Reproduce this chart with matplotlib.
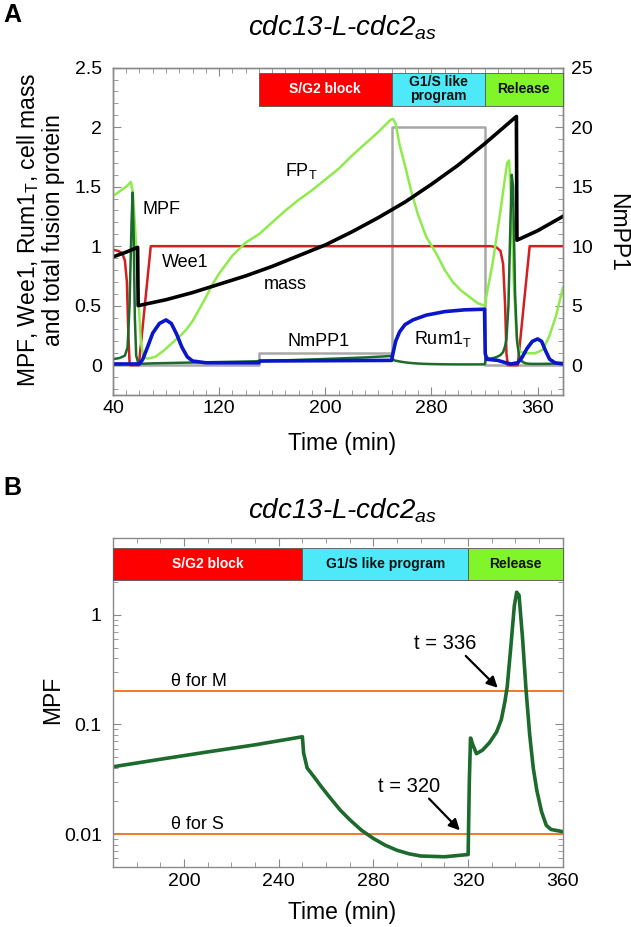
import matplotlib
matplotlib.use('Agg')
import matplotlib.pyplot as plt
import numpy as np
from matplotlib.patches import Rectangle
from matplotlib.ticker import MultipleLocator, FixedLocator, LogLocator, NullFormatter, FuncFormatter

plt.rcParams['font.family'] = ['Liberation Sans', 'DejaVu Sans']
plt.rcParams['mathtext.fontset'] = 'custom'
plt.rcParams['mathtext.rm'] = 'Liberation Sans'
plt.rcParams['mathtext.it'] = 'Liberation Sans:italic'

# ---- data ----
# phases of the experiment (start times)
phase_names_A = ['S/G2 block', 'G1/S like\nprogram', 'Release']
phase_names_B = ['S/G2 block', 'G1/S like program', 'Release']
phase_starts = [150, 250, 320]
phase_colors = ['#ff0000', '#4de9f8', '#7ff52a']
phase_text_colors = ['white', '#111111', '#111111']

# NmPP1 (right axis, panel A)
nmpp1_t = [40, 150, 250, 320, 379]
nmpp1 = [0, 1, 20, 0, 0]

# cell mass
mass_t = [40, 50, 58.6, 59.0, 80, 100, 120, 140, 160, 180, 200, 220, 240, 260,
          280, 300, 320, 344, 344.4, 360, 379]
mass = [0.91, 0.95, 0.99, 0.5, 0.55, 0.61, 0.68, 0.75, 0.83, 0.92, 1.01, 1.12,
        1.24, 1.37, 1.52, 1.68, 1.86, 2.09, 1.05, 1.13, 1.25]

# Wee1
wee1_t = [40, 44, 47, 49, 50.5, 51.5, 52.5, 53, 59.5, 68.5, 325, 329, 332, 334,
          335.5, 336.5, 337.5, 345, 354, 379]
wee1 = [0.97, 0.96, 0.94, 0.88, 0.7, 0.3, 0.02, 0.0, 0.0, 1.0, 1.0, 0.99, 0.96,
        0.85, 0.5, 0.1, 0.0, 0.0, 1.0, 1.0]

# total fusion protein FP_T
fp_t = [40, 45, 50, 53.5, 55, 57, 59, 61, 63, 66, 72, 78, 85, 92, 96, 100, 105,
        110, 115, 120, 130, 140, 150, 160, 170, 180, 190, 200, 210, 220, 230, 240,
        249, 251, 253, 256, 260, 265, 270, 276, 284, 290, 296, 302, 309, 315, 320,
        326, 332, 337, 338.5, 340, 342, 344, 346, 350, 358, 364, 369, 374, 379]
fp = [1.42, 1.46, 1.50, 1.54, 1.45, 1.1, 0.6, 0.2, 0.07, 0.055, 0.07, 0.12, 0.19,
      0.26, 0.31, 0.37, 0.47, 0.57, 0.68, 0.77, 0.92, 1.03, 1.1, 1.2, 1.3, 1.39,
      1.47, 1.56, 1.65, 1.76, 1.86, 1.96, 2.06, 2.07, 2.03, 1.85, 1.68, 1.45, 1.26,
      1.08, 0.93, 0.8, 0.7, 0.63, 0.57, 0.52, 0.5, 0.85, 1.3, 1.7, 1.72, 1.4, 0.7,
      0.25, 0.12, 0.1, 0.1, 0.13, 0.25, 0.42, 0.65]

# Rum1_T
rum_t = [40, 60, 62.5, 66, 70, 75, 80, 84, 88, 92, 96, 100, 110, 150, 150.5, 250,
         251, 253, 256, 260, 266, 276, 290, 305, 320, 320.5, 321.5, 330, 336, 340,
         345, 348, 352, 356, 360, 363, 366, 369, 373, 379]
rum = [0.01, 0.01, 0.05, 0.15, 0.27, 0.35, 0.38, 0.35, 0.26, 0.15, 0.07, 0.035,
       0.02, 0.02, 0.035, 0.04, 0.1, 0.2, 0.28, 0.34, 0.38, 0.42, 0.45, 0.465, 0.47,
       0.1, 0.05, 0.04, 0.02, 0.01, 0.02, 0.06, 0.14, 0.2, 0.22, 0.2, 0.12, 0.05,
       0.02, 0.01]

# MPF (both panels)
mpf_t = [40, 45, 49, 51, 52.5, 54, 54.8, 55.6, 56.5, 57.5, 59, 62, 70, 90, 110,
         130, 150, 170, 190, 210, 230, 250, 250.5, 252, 255, 258, 262, 266, 270,
         275, 280, 285, 290, 295, 300, 310, 320, 320.5, 321, 322, 323.5, 326, 329,
         332, 334, 335.5, 336.5, 338, 339.5, 340.5, 341.5, 343, 344.5, 346, 347.5,
         349, 351, 353, 355, 360, 370, 379]
mpf = [0.05, 0.06, 0.08, 0.15, 0.5, 1.2, 1.45, 1.1, 0.4, 0.08, 0.02, 0.012, 0.015,
       0.02, 0.024, 0.028, 0.033, 0.041, 0.048, 0.056, 0.065, 0.077, 0.055, 0.040,
       0.033, 0.027, 0.021, 0.0165, 0.0135, 0.0108, 0.0091, 0.0079, 0.0071, 0.0066,
       0.0063, 0.0062, 0.0065, 0.03, 0.075, 0.065, 0.054, 0.058, 0.068, 0.085, 0.11,
       0.16, 0.22, 0.5, 1.2, 1.6, 1.5, 0.6, 0.2, 0.08, 0.04, 0.025, 0.016, 0.012,
       0.011, 0.0105, 0.012, 0.02]

theta_M = 0.2
theta_S = 0.01

FRAME = '#8a8a8a'


def style_frame(ax):
    for s in ax.spines.values():
        s.set_color(FRAME)
        s.set_linewidth(1.0)
    ax.tick_params(which='both', direction='in', colors=FRAME, labelcolor='black',
                   labelsize=14)
    ax.tick_params(which='major', length=6)
    ax.tick_params(which='minor', length=3.5)


def phase_bar(ax, names, y0, y1, fs):
    # bar of coloured phases, clipped to the visible time range
    tr = ax.get_xaxis_transform()
    lo, hi = ax.get_xlim()
    edges = [max(s, lo) for s in phase_starts] + [hi]
    for i, name in enumerate(names):
        a, b = edges[i], edges[i + 1]
        ax.add_patch(Rectangle((a, y0), b - a, y1 - y0, transform=tr,
                               facecolor=phase_colors[i], edgecolor='#555555',
                               lw=0.6, zorder=5, clip_on=False))
        ax.text((a + b) / 2, (y0 + y1) / 2, name, transform=tr, ha='center',
                va='center', fontsize=fs, fontweight='bold',
                color=phase_text_colors[i], zorder=6, linespacing=1.0)


fig = plt.figure(figsize=(6.31, 9.27), dpi=100)

# ================= panel A =================
axA = fig.add_axes([0.179, 0.574, 0.713, 0.353])
axA2 = axA.twinx()
axA.set_zorder(axA2.get_zorder() + 1)
axA.patch.set_visible(False)

axA2.plot(nmpp1_t, nmpp1, drawstyle='steps-post', color='#a8a8a8', lw=1.8)
axA.plot(wee1_t, wee1, color='#d21f1f', lw=1.8)
axA.plot(fp_t, fp, color='#8fea4c', lw=1.8)
axA.plot(mpf_t, mpf, color='#1c6b2c', lw=1.8)
axA.plot(mass_t, mass, color='black', lw=2.6)
axA.plot(rum_t, rum, color='#0a16c8', lw=2.6)

axA.set_xlim(40, 379)
axA.set_ylim(-0.25, 2.5)
axA2.set_ylim(-2.5, 25)
axA.xaxis.set_major_locator(FixedLocator([40, 120, 200, 280, 360]))
axA.xaxis.set_minor_locator(MultipleLocator(10))
axA.yaxis.set_major_locator(FixedLocator([0, 0.5, 1, 1.5, 2, 2.5]))
axA.yaxis.set_minor_locator(MultipleLocator(0.1))
axA.yaxis.set_major_formatter(FuncFormatter(lambda v, p: '%g' % v))
axA2.yaxis.set_major_locator(FixedLocator([0, 5, 10, 15, 20, 25]))
axA2.yaxis.set_minor_locator(MultipleLocator(1))
style_frame(axA)
style_frame(axA2)
axA.tick_params(which='both', top=True, right=False)
axA.tick_params(axis='y', pad=8)
axA.tick_params(axis='x', pad=4)
axA2.tick_params(axis='y', pad=6)

phase_bar(axA, phase_names_A, 0.884, 0.985, 10)

lab = dict(fontsize=13, ha='left', va='center', zorder=7)
axA.text(62.5, 1.31, 'MPF', **lab)
axA.text(77, 0.86, 'Wee1', **lab)
axA.text(153.5, 0.68, 'mass', **lab)
axA.text(170, 1.63, r'FP$_{\mathrm{T}}$', **lab)
axA.text(171.5, 0.2, 'NmPP1', **lab)
axA.text(266.5, 0.22, r'Rum1$_{\mathrm{T}}$', **lab)

fig.text(0.063, 1 - 230 / 927,
         'MPF, Wee1, Rum1$_{\\mathrm{T}}$, cell mass\nand total fusion protein',
         rotation=90, ha='center', va='center', fontsize=16.5, linespacing=1.05)
fig.text(618 / 631, 1 - 232 / 927, 'NmPP1', rotation=270, ha='center',
         va='center', fontsize=16.5)
fig.text(342 / 631, 1 - 443 / 927, 'Time (min)', ha='center', va='center',
         fontsize=16.5)
fig.text(342 / 631, 1 - 28 / 927, r'cdc13-L-cdc2$_{\mathit{as}}$', style='italic',
         ha='center', va='center', fontsize=20)
fig.text(12 / 631, 1 - 15 / 927, 'A', fontweight='bold', ha='center', va='center',
         fontsize=18)

# ================= panel B =================
axB = fig.add_axes([0.179, 0.0647, 0.713, 0.355])
axB.axhline(theta_M, color='#ef7a2c', lw=1.4)
axB.axhline(theta_S, color='#ef7a2c', lw=1.4)
axB.plot(mpf_t, mpf, color='#1c6b2c', lw=2.6)
axB.set_yscale('log')
axB.set_xlim(170, 360)
axB.set_ylim(0.005, 5)
axB.xaxis.set_major_locator(FixedLocator([200, 240, 280, 320, 360]))
axB.xaxis.set_minor_locator(MultipleLocator(10))
axB.yaxis.set_major_locator(FixedLocator([0.01, 0.1, 1]))
axB.yaxis.set_major_formatter(FuncFormatter(lambda v, p: '%g' % v))
axB.yaxis.set_minor_locator(LogLocator(base=10, subs=np.arange(2, 10)))
axB.yaxis.set_minor_formatter(NullFormatter())
style_frame(axB)
axB.tick_params(which='both', top=True, right=True)
axB.tick_params(axis='y', pad=8)
axB.tick_params(axis='x', pad=4)

phase_bar(axB, phase_names_B, 0.872, 0.970, 10)

axB.text(194.5, 0.205, 'θ for M', fontsize=13, ha='left', va='bottom')
axB.text(194.5, 0.0103, 'θ for S', fontsize=13, ha='left', va='bottom')
axB.text(310.5, 0.54, 't = 336', fontsize=14.5, ha='center', va='center')
axB.text(295, 0.027, 't = 320', fontsize=14.5, ha='center', va='center')
arr = dict(arrowstyle='-|>', color='black', lw=1.6, mutation_scale=16,
           shrinkA=0, shrinkB=0)
axB.annotate('', xy=(332.5, 0.215), xytext=(319, 0.42), arrowprops=arr)
axB.annotate('', xy=(316.5, 0.0108), xytext=(303.5, 0.021), arrowprops=arr)

fig.text(53 / 631, 1 - 700 / 927, 'MPF', rotation=90, ha='center', va='center',
         fontsize=16.5)
fig.text(342 / 631, 1 - 912 / 927, 'Time (min)', ha='center', va='center',
         fontsize=16.5)
fig.text(342 / 631, 1 - 511 / 927, r'cdc13-L-cdc2$_{\mathit{as}}$', style='italic',
         ha='center', va='center', fontsize=20)
fig.text(12 / 631, 1 - 488 / 927, 'B', fontweight='bold', ha='center', va='center',
         fontsize=18)

fig.savefig('out.png', dpi=100)
